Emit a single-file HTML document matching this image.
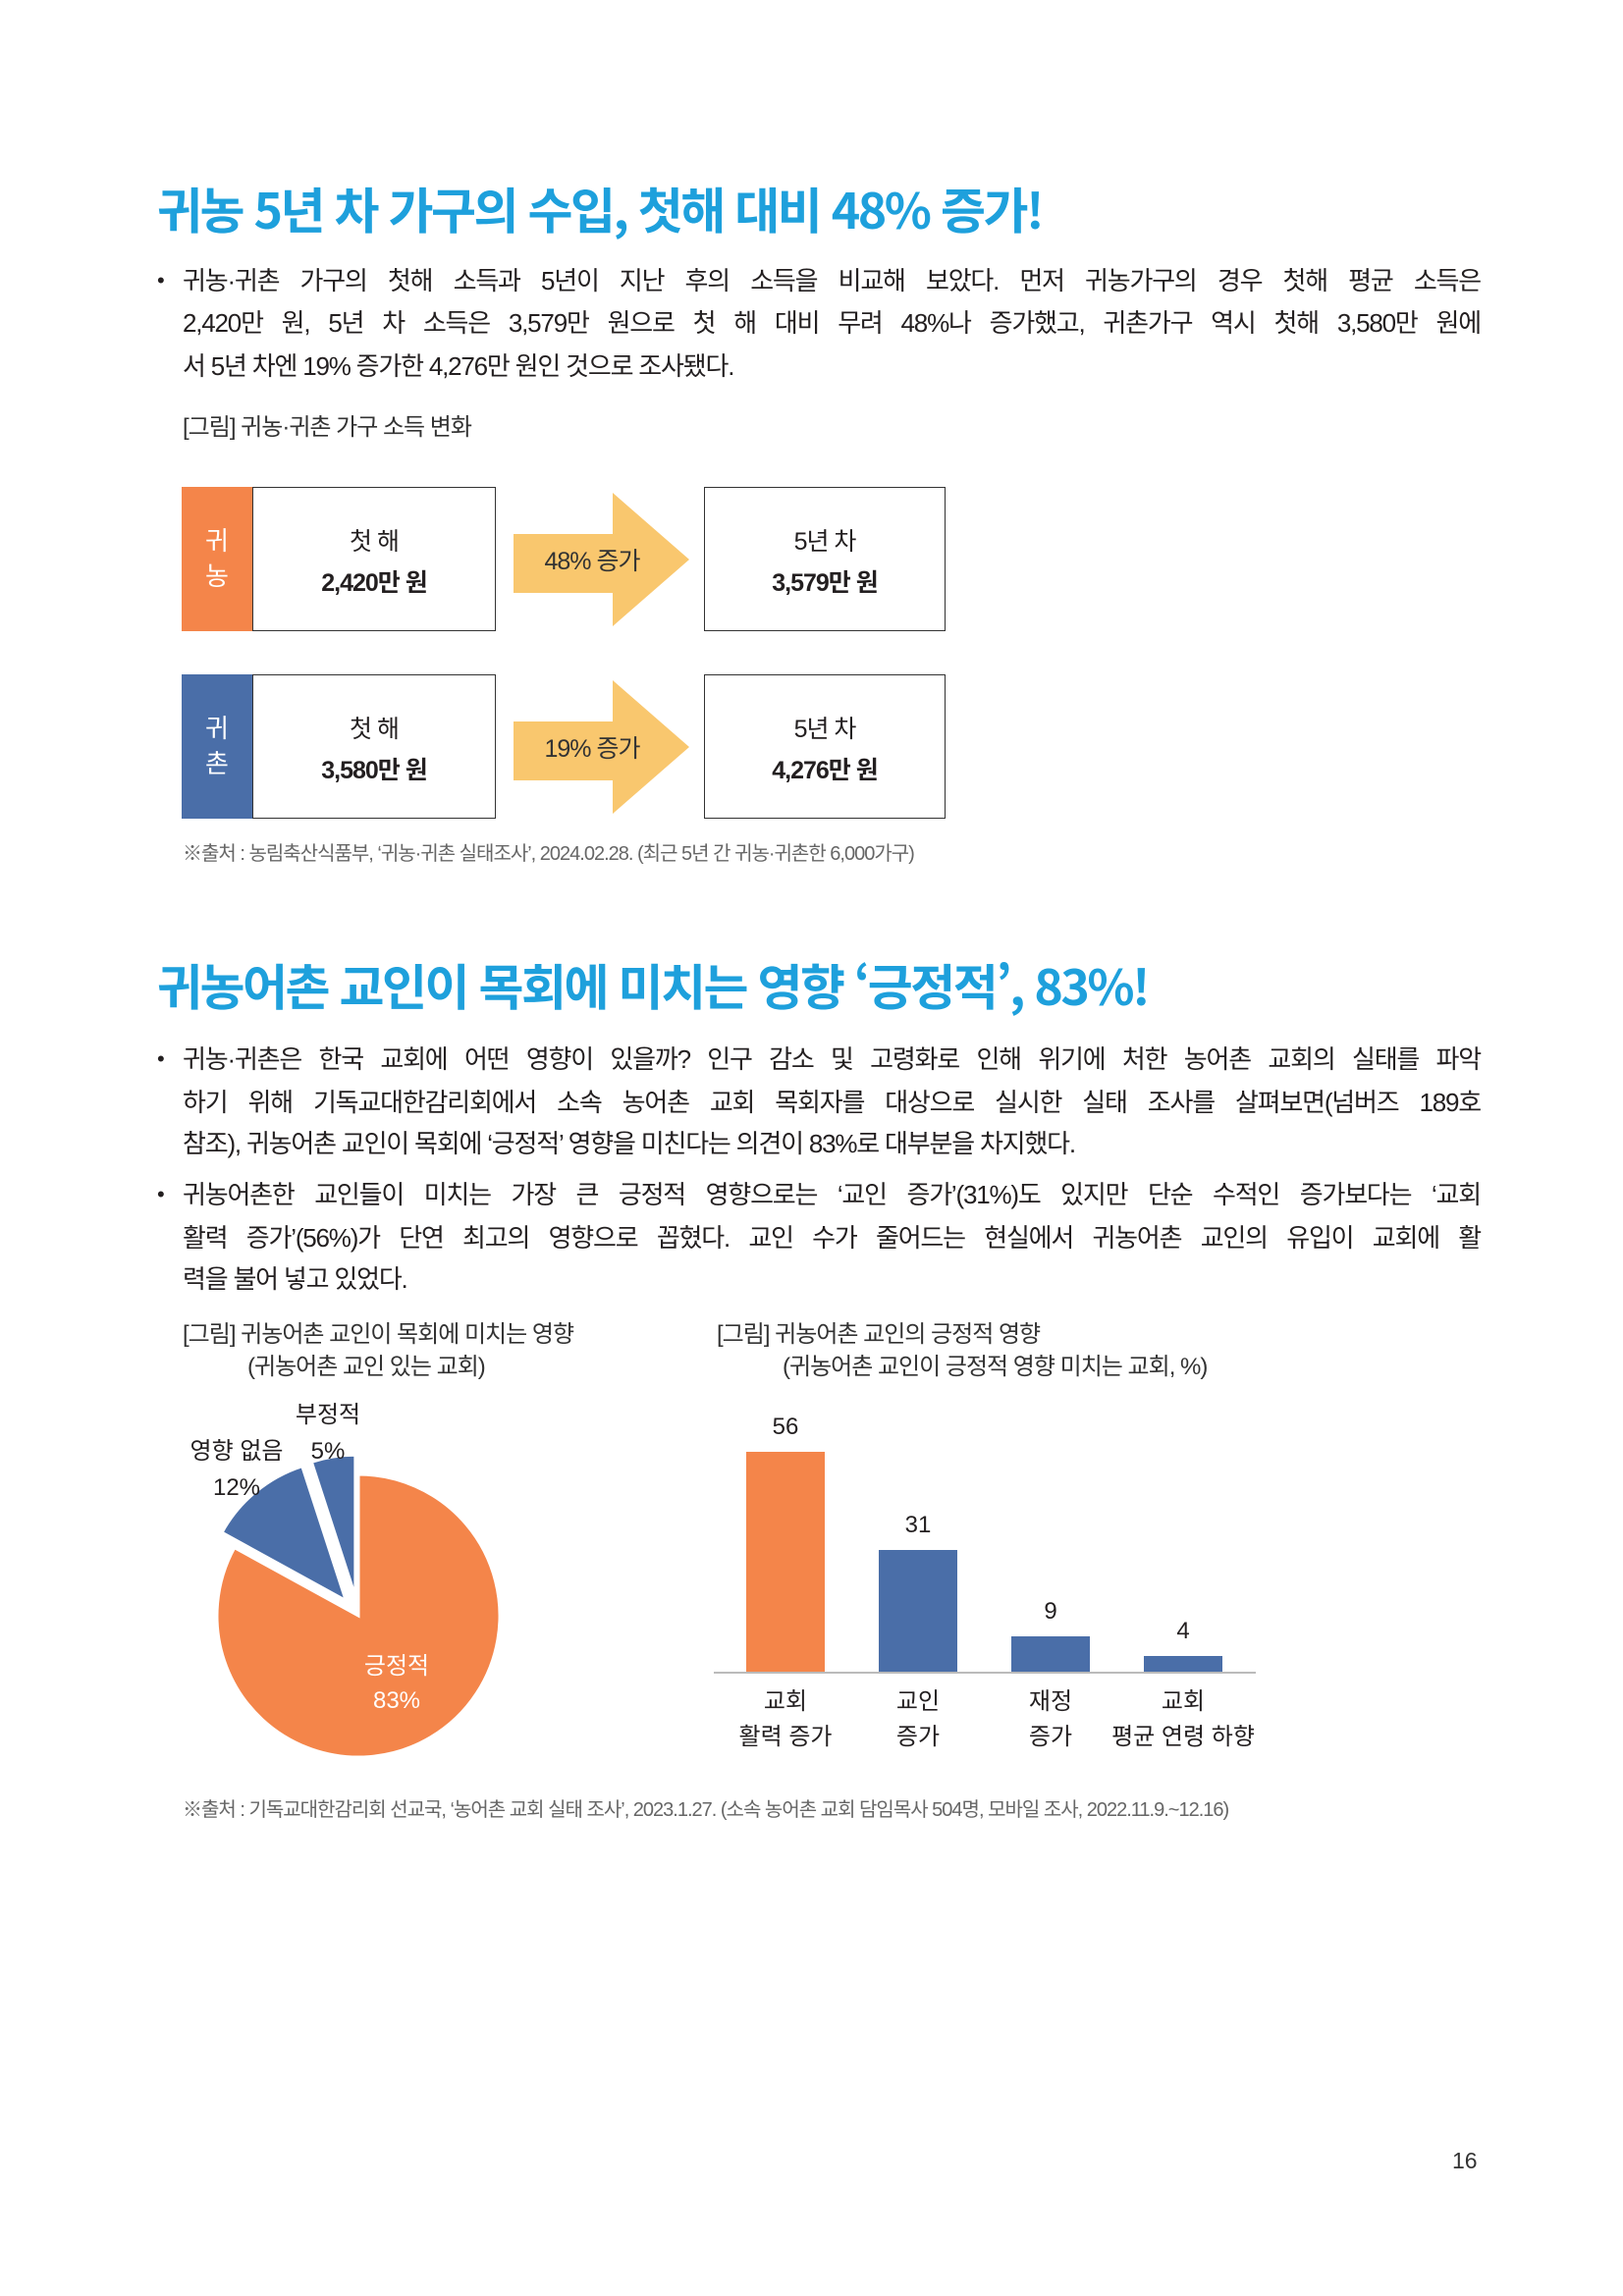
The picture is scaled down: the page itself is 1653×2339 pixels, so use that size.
<!DOCTYPE html>
<html lang="ko"><head><meta charset="utf-8">
<style>
*{margin:0;padding:0;box-sizing:border-box}
body{width:1653px;height:2339px;background:#fff;position:relative;overflow:hidden;font-family:"Liberation Sans","Noto Sans CJK KR",sans-serif;color:#231f20}
.abs{position:absolute;white-space:nowrap}
.title{font-family:"Noto Sans CJK KR",sans-serif;font-weight:700;color:#1ea0dc;font-size:50px;letter-spacing:-2.5px;left:160px;line-height:60px}
.ln{position:absolute;left:186px;width:1322px;font-size:26px;letter-spacing:-1.2px;line-height:36px;white-space:nowrap;text-align:justify;text-align-last:justify;color:#231f20}
.ln.last{text-align-last:left}
.bul{position:absolute;left:160px;font-size:22px;line-height:36px}
.cap{font-size:24px;letter-spacing:-1px;color:#333;line-height:30px}
.src{font-size:20px;letter-spacing:-1px;color:#666;line-height:26px}
.box{position:absolute;border:1.5px solid #333;background:#fff;text-align:center;font-size:25px;letter-spacing:-1px}
.tag{position:absolute;color:#fff;font-size:26px;text-align:center;line-height:36px;font-family:"Noto Sans CJK KR",sans-serif}
</style></head><body>

<div class="abs title" style="top:182px">귀농 5년 차 가구의 수입, 첫해 대비 48% 증가!</div>

<div class="bul" style="top:268px">•</div>
<div class="ln" style="top:268px">귀농·귀촌 가구의 첫해 소득과 5년이 지난 후의 소득을 비교해 보았다. 먼저 귀농가구의 경우 첫해 평균 소득은</div>
<div class="ln" style="top:311px">2,420만 원, 5년 차 소득은 3,579만 원으로 첫 해 대비 무려 48%나 증가했고, 귀촌가구 역시 첫해 3,580만 원에</div>
<div class="ln last" style="top:355px">서 5년 차엔 19% 증가한 4,276만 원인 것으로 조사됐다.</div>

<div class="abs cap" style="left:186px;top:421px">[그림] 귀농·귀촌 가구 소득 변화</div>

<!-- row 1 -->
<div class="tag" style="left:185px;top:496px;width:72px;height:147px;background:#f4854a;padding-top:36px">귀<br>농</div>
<div class="box" style="left:257px;top:496px;width:248px;height:147px;padding-top:34px;line-height:42px">첫 해<br><b>2,420만 원</b></div>
<svg class="abs" style="left:523px;top:502px" width="180" height="136"><polygon points="0,42 101,42 101,0 179,68 101,136 101,102 0,102" fill="#f9c76e"/><text x="80" y="78" font-size="25" text-anchor="middle" fill="#333" letter-spacing="-1" font-family="Liberation Sans,Noto Sans CJK KR,sans-serif">48% 증가</text></svg>
<div class="box" style="left:717px;top:496px;width:246px;height:147px;padding-top:34px;line-height:42px">5년 차<br><b>3,579만 원</b></div>

<!-- row 2 -->
<div class="tag" style="left:185px;top:687px;width:72px;height:147px;background:#4a6ea8;padding-top:36px">귀<br>촌</div>
<div class="box" style="left:257px;top:687px;width:248px;height:147px;padding-top:34px;line-height:42px">첫 해<br><b>3,580만 원</b></div>
<svg class="abs" style="left:523px;top:693px" width="180" height="136"><polygon points="0,42 101,42 101,0 179,68 101,136 101,102 0,102" fill="#f9c76e"/><text x="80" y="78" font-size="25" text-anchor="middle" fill="#333" letter-spacing="-1" font-family="Liberation Sans,Noto Sans CJK KR,sans-serif">19% 증가</text></svg>
<div class="box" style="left:717px;top:687px;width:246px;height:147px;padding-top:34px;line-height:42px">5년 차<br><b>4,276만 원</b></div>

<div class="abs src" style="left:186px;top:857px">※출처 : 농림축산식품부, ‘귀농·귀촌 실태조사’, 2024.02.28. (최근 5년 간 귀농·귀촌한 6,000가구)</div>

<div class="abs title" style="top:973px">귀농어촌 교인이 목회에 미치는 영향 ‘긍정적’, 83%!</div>

<div class="bul" style="top:1061px">•</div>
<div class="ln" style="top:1061px">귀농·귀촌은 한국 교회에 어떤 영향이 있을까? 인구 감소 및 고령화로 인해 위기에 처한 농어촌 교회의 실태를 파악</div>
<div class="ln" style="top:1105px">하기 위해 기독교대한감리회에서 소속 농어촌 교회 목회자를 대상으로 실시한 실태 조사를 살펴보면(넘버즈 189호</div>
<div class="ln last" style="top:1147px">참조), 귀농어촌 교인이 목회에 ‘긍정적’ 영향을 미친다는 의견이 83%로 대부분을 차지했다.</div>
<div class="bul" style="top:1199px">•</div>
<div class="ln" style="top:1199px">귀농어촌한 교인들이 미치는 가장 큰 긍정적 영향으로는 ‘교인 증가’(31%)도 있지만 단순 수적인 증가보다는 ‘교회</div>
<div class="ln" style="top:1243px">활력 증가’(56%)가 단연 최고의 영향으로 꼽혔다. 교인 수가 줄어드는 현실에서 귀농어촌 교인의 유입이 교회에 활</div>
<div class="ln last" style="top:1285px">력을 불어 넣고 있었다.</div>

<div class="abs cap" style="left:186px;top:1345px">[그림] 귀농어촌 교인이 목회에 미치는 영향</div>
<div class="abs cap" style="left:252px;top:1378px">(귀농어촌 교인 있는 교회)</div>
<div class="abs cap" style="left:730px;top:1345px">[그림] 귀농어촌 교인의 긍정적 영향</div>
<div class="abs cap" style="left:797px;top:1378px">(귀농어촌 교인이 긍정적 영향 미치는 교회, %)</div>

<svg id="pie" class="abs" style="left:0;top:0" width="700" height="1850"></svg>
<svg id="bar" class="abs" style="left:0;top:0" width="1653" height="1850"></svg>

<div class="abs src" style="left:186px;top:1831px">※출처 : 기독교대한감리회 선교국, ‘농어촌 교회 실태 조사’, 2023.1.27. (소속 농어촌 교회 담임목사 504명, 모바일 조사, 2022.11.9.~12.16)</div>

<div class="abs" style="left:1479px;top:2188px;font-size:23px;color:#333">16</div>

<script>
const pieLabels = ["긍정적", "영향 없음", "부정적"];
const pieValues = [83, 12, 5];
const barCategories = [["교회","활력 증가"], ["교인","증가"], ["재정","증가"], ["교회","평균 연령 하향"]];
const barValues = [56, 31, 9, 4];

const NS = "http://www.w3.org/2000/svg";
function mk(parent, tag, attrs, txt){
  const e = document.createElementNS(NS, tag);
  for (const k in attrs) e.setAttribute(k, attrs[k]);
  if (txt !== undefined) e.textContent = txt;
  parent.appendChild(e);
  return e;
}
const FONT = "Liberation Sans, Noto Sans CJK KR, sans-serif";

// pie
(function(){
  const svg = document.getElementById("pie");
  const cx = 365, cy = 1646, r = 144;
  const total = pieValues.reduce((a,b)=>a+b,0);
  const colors = ["#f4854a", "#4a6ea8", "#4a6ea8"];
  const explode = [0, 20, 20];
  let start = 0;
  pieValues.forEach((v,i)=>{
    const a0 = start / total * 2 * Math.PI, a1 = (start + v) / total * 2 * Math.PI;
    const mid = (a0 + a1) / 2;
    const ox = cx + explode[i] * Math.sin(mid), oy = cy - explode[i] * Math.cos(mid);
    const x0 = ox + r * Math.sin(a0), y0 = oy - r * Math.cos(a0);
    const x1 = ox + r * Math.sin(a1), y1 = oy - r * Math.cos(a1);
    const large = (a1 - a0) > Math.PI ? 1 : 0;
    const p = mk(svg, "path", {d:`M${ox},${oy} L${x0},${y0} A${r},${r} 0 ${large} 1 ${x1},${y1} Z`, fill:colors[i], stroke:"#fff", "stroke-width":3});
    
    
    start += v;
  });
  const labelPos = [[404,1705,1740,"#fff"],[241,1486,1523,"#231f20"],[334,1449,1486,"#231f20"]];
  pieValues.forEach((v,i)=>{
    const [x,y1,y2,c] = labelPos[i];
    const t1 = mk(svg, "text", {x:x, y:y1, "text-anchor":"middle", "font-size":24, fill:c, "font-family":FONT}, pieLabels[i]);
    
    
    const t2 = mk(svg, "text", {x:x, y:y2, "text-anchor":"middle", "font-size":24, fill:c, "font-family":FONT}, v + "%");
    
    
  });
})();

// bar
(function(){
  const svg = document.getElementById("bar");
  const base = 1703, unit = 4.0, x0 = 800, step = 135, bw = 80;
  const ax = mk(svg, "line", {x1:727, x2:1279, y1:base+1, y2:base+1, stroke:"#bbb", "stroke-width":2});
  
  
  barValues.forEach((v,i)=>{
    const cx = x0 + i * step, h = v * unit;
    const b = mk(svg, "rect", {x:cx - bw/2, y:base - h, width:bw, height:h, fill: i === 0 ? "#f4854a" : "#4a6ea8"});
    
    
    const t = mk(svg, "text", {x:cx, y:base - h - 18, "text-anchor":"middle", "font-size":24, fill:"#231f20", "font-family":FONT}, v);
    
    
    barCategories[i].forEach((s,j)=>{
      const c = mk(svg, "text", {x:cx, y:1741 + j*36, "text-anchor":"middle", "font-size":24, fill:"#231f20", "font-family":FONT}, s);
      
      
    });
  });
})();
</script>
</body></html>
